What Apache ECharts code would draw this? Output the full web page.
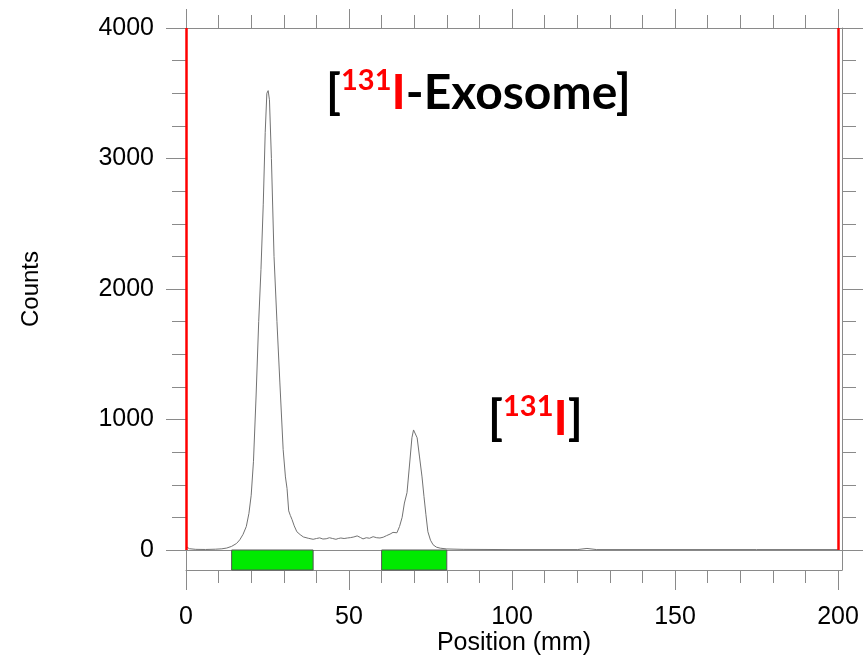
<!DOCTYPE html>
<html>
<head>
<meta charset="utf-8">
<script src="https://cdn.jsdelivr.net/npm/echarts@6/dist/echarts.min.js"></script>
<style>
  html, body { margin: 0; padding: 0; background: #ffffff; }
  #chart { width: 863px; height: 658px; }
</style>
</head>
<body>
<div id="chart"></div>
<script>
// Radio-TLC scan: position along the strip (mm) and detector counts
const positions = [
  0, 1, 3, 6, 9, 11, 12.5, 14, 15.5, 16.5, 17.5, 18.5, 19.3, 20, 20.7, 21.5, 22.3, 23, 23.7, 24.3,
  24.8, 25.2, 25.6, 26.2, 27.0, 27.9, 28.8, 29.8, 30.5, 31.0, 31.5, 32.0, 32.5, 33.2, 34.0, 35.0,
  36.0, 37.5, 39.0, 40.0, 41.0, 42.0, 43.0, 44.0, 45.0, 46.0, 46.7, 47.5, 48.5, 49.5, 50.5, 51.5,
  52.5, 53.5, 54.3, 55.3, 56.3, 57.4, 58.5, 59.5, 60.5, 61.5, 62.6, 63.5, 64.1, 64.7, 65.5, 66.3,
  67.0, 67.8, 68.7, 69.3, 69.8, 70.3, 70.9, 71.6, 72.4, 73.0, 73.6, 74.2, 75.0, 75.8, 76.8, 78.0,
  80, 85, 100, 120, 123, 126, 150, 175, 200
];
const counts = [
  28, 10, 5, 4, 6, 9, 15, 28, 50, 78, 120, 180, 280, 420, 680, 1180, 1750, 2150, 2650, 3200,
  3500, 3520, 3450, 3000, 2250, 1750, 1280, 770, 560, 470, 300, 265, 235, 185, 140, 118,
  100, 90, 82, 88, 93, 84, 86, 94, 88, 82, 88, 92, 88, 92, 95, 100,
  108, 96, 85, 94, 90, 102, 94, 92, 98, 110, 122, 135, 150, 132, 180, 250,
  360, 440, 690, 860, 920, 905, 860, 720, 560, 410, 270, 140, 75, 40, 22, 14,
  8, 5, 3, 3, 12, 3, 3, 3, 3
];

// Origin and front markers (mm)
const windowEdges = [0, 200];
// Integration regions (start mm, end mm)
const regions = [[14, 39], [60, 80]];

const xMajorTicks = [0, 50, 100, 150, 200];
const xMinorTicks = [10, 20, 30, 40, 60, 70, 80, 90, 110, 120, 130, 140, 160, 170, 180, 190];
const yMax = 4000;
const yStep = 1000;
const xMax = 201.23;

const axisGray = '#8a8a8a';
const labelFont = 'Liberation Sans, Arial, sans-serif';

const curve = positions.map((p, i) => [p, counts[i]]);

const chart = echarts.init(document.getElementById('chart'), null, { renderer: 'canvas' });

const hiddenLabel = { show: false };
function xAxisBase(gridIndex, position) {
  return {
    type: 'value', gridIndex: gridIndex, position: position, min: 0, max: xMax,
    splitLine: { show: false }, axisLabel: hiddenLabel
  };
}
function line(show) {
  return { show: show, onZero: false, lineStyle: { color: axisGray, width: 1 } };
}

const richLabel = {
  b: { fontFamily: 'Lato, sans-serif', fontWeight: 'bold', fontSize: 48, color: '#000000', lineHeight: 56 },
  r: { fontFamily: 'Lato, sans-serif', fontWeight: 'bold', fontSize: 48, color: '#ff0000', lineHeight: 56 },
  sup: { fontFamily: 'Lato, sans-serif', fontWeight: 'bold', fontSize: 29, color: '#ff0000', lineHeight: 29, verticalAlign: 'top' }
};

chart.setOption({
  animation: false,
  backgroundColor: '#ffffff',
  title: [
    { text: '{b|[}{sup|131}{r|I}{b|-Exosome]}', left: 321, top: 61, textStyle: { rich: richLabel } },
    { text: '{b|[}{sup|131}{r|I}{b|]}', left: 483, top: 387, textStyle: { rich: richLabel } }
  ],
  grid: [
    { left: 186, right: 21, top: 28, height: 522 },
    { left: 186, right: 21, top: 550, height: 20 }
  ],
  xAxis: [
    // top frame, minor ticks
    Object.assign(xAxisBase(0, 'top'), {
      axisLine: line(true),
      axisTick: { show: true, inside: false, length: 13, customValues: xMinorTicks, lineStyle: { color: axisGray } }
    }),
    // top frame, major ticks
    Object.assign(xAxisBase(0, 'top'), {
      axisLine: line(false),
      axisTick: { show: true, inside: false, length: 19, customValues: xMajorTicks, lineStyle: { color: axisGray } }
    }),
    // zero-count baseline
    Object.assign(xAxisBase(0, 'bottom'), {
      axisLine: line(true),
      axisTick: { show: false }
    }),
    // bottom axis with labels and major ticks
    Object.assign(xAxisBase(1, 'bottom'), {
      axisLine: line(true),
      axisTick: { show: true, inside: false, length: 20, customValues: xMajorTicks, lineStyle: { color: axisGray } },
      axisLabel: { show: true, customValues: xMajorTicks, margin: 35, color: '#000000', fontSize: 25, fontFamily: labelFont },
      name: 'Position (mm)', nameLocation: 'middle', nameGap: 61,
      nameTextStyle: { color: '#000000', fontSize: 25, fontFamily: labelFont }
    }),
    // bottom axis minor ticks
    Object.assign(xAxisBase(1, 'bottom'), {
      axisLine: line(false),
      axisTick: { show: true, inside: false, length: 13, customValues: xMinorTicks, lineStyle: { color: axisGray } }
    })
  ],
  yAxis: [
    {
      type: 'value', gridIndex: 0, position: 'left', min: 0, max: yMax, interval: yStep,
      axisLine: line(true),
      axisTick: { show: true, inside: false, length: 20, lineStyle: { color: axisGray } },
      minorTick: { show: true, splitNumber: 4, length: 14, lineStyle: { color: axisGray } },
      splitLine: { show: false },
      axisLabel: { margin: 32, color: '#000000', fontSize: 25, fontFamily: labelFont, formatter: v => String(v) },
      name: 'Counts', nameLocation: 'middle', nameGap: 143, nameRotate: 90,
      nameTextStyle: { color: '#000000', fontSize: 24, fontFamily: labelFont }
    },
    {
      type: 'value', gridIndex: 0, position: 'right', min: 0, max: yMax, interval: yStep,
      axisLine: line(true),
      axisTick: { show: true, inside: false, length: 21, lineStyle: { color: axisGray } },
      minorTick: { show: true, splitNumber: 4, length: 14, lineStyle: { color: axisGray } },
      splitLine: { show: false },
      axisLabel: hiddenLabel
    },
    {
      type: 'value', gridIndex: 1, position: 'left', min: 0, max: 1,
      axisLine: line(true),
      axisTick: { show: false }, splitLine: { show: false }, axisLabel: hiddenLabel
    },
    {
      type: 'value', gridIndex: 1, position: 'right', min: 0, max: 1,
      axisLine: line(true),
      axisTick: { show: false }, splitLine: { show: false }, axisLabel: hiddenLabel
    }
  ],
  series: [
    {
      type: 'line', xAxisIndex: 0, yAxisIndex: 0, data: curve,
      symbol: 'none', smooth: false,
      lineStyle: { color: '#727272', width: 1 },
      z: 3,
      markLine: {
        silent: true, symbol: ['none', 'none'],
        label: { show: false },
        lineStyle: { color: '#ff0000', width: 2.5, type: 'solid' },
        data: windowEdges.map(e => [{ coord: [e, 0] }, { coord: [e, yMax] }])
      }
    },
    {
      type: 'custom', xAxisIndex: 3, yAxisIndex: 2, data: regions,
      renderItem: function (params, api) {
        const p0 = api.coord([api.value(0), 1]);
        const p1 = api.coord([api.value(1), 0]);
        return {
          type: 'rect',
          shape: { x: p0[0], y: p0[1], width: p1[0] - p0[0], height: p1[1] - p0[1] },
          style: { fill: '#00ea00', stroke: '#555555', lineWidth: 1 }
        };
      },
      z: 2
    }
  ]
});
</script>
</body>
</html>
